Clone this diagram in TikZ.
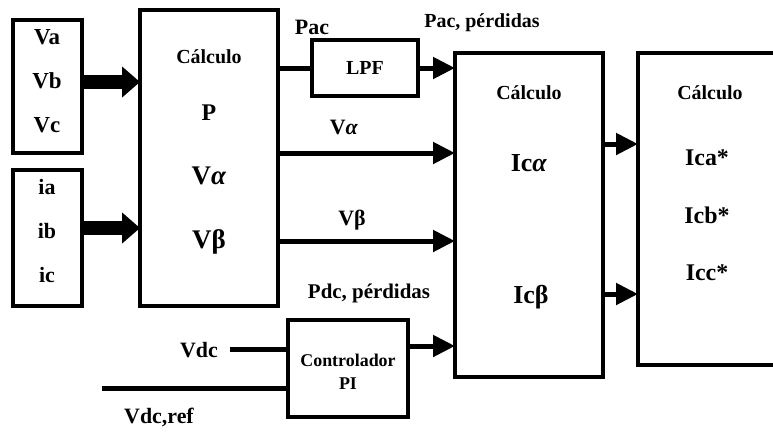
\documentclass[tikz,border=0pt]{standalone}
\usepackage{fontspec}
\setmainfont{Liberation Serif}
\usetikzlibrary{arrows.meta}
\newcommand{\fsz}[1]{\fontsize{#1}{#1}\selectfont}
\begin{document}
\begin{tikzpicture}[x=1bp,y=-1bp,
  box/.style={draw, line width=3.5bp, inner sep=0pt, outer sep=0pt},
  txt/.style={font=\bfseries\fsz{#1}, inner sep=0pt},
  txt/.default=20,
  sig/.style={line width=5bp},
  arr/.style={line width=5bp, -{Triangle[length=22bp,width=21bp]}},
  fat/.style={line width=14bp, -{Triangle[length=18bp,width=30bp]}}]
\useasboundingbox (0,0) rectangle (773,431);

% input blocks
\node[box, minimum width=69bp, minimum height=133bp] (vin) at (47.5,86.5) {};
\node[txt=23] (va) at (47,37) {Va};
\node[txt=23] (vb) at (47,81) {Vb};
\node[txt=23] (vc) at (47,125) {Vc};

\node[box, minimum width=69bp, minimum height=136bp] (iin) at (47.5,238) {};
\node[txt=22] (ia) at (47,187) {ia};
\node[txt=22] (ib) at (47,231) {ib};
\node[txt=22] (ic) at (47,275) {ic};

% first calculation block
\node[box, minimum width=138bp, minimum height=296bp] (calcA) at (209,158) {};
\node[txt] (ca1) at (209,57) {Cálculo};
\node[txt=24] (cap) at (209,113) {P};
\node[txt=27] (caa) at (209,176) {V\textit{α}};
\node[txt=27] (cab) at (209,242) {Vβ};

% low-pass filter
\node[box, minimum width=106bp, minimum height=56bp] (lpf) at (365,68) {};
\node[txt] (lpft) at (365,68) {LPF};

% PI controller
\node[box, minimum width=120bp, minimum height=97bp] (pi) at (348,368.5) {};
\node[txt=18] (pi1) at (348,360) {Controlador};
\node[txt=18] (pi2) at (348,384) {PI};

% second calculation block
\node[box, minimum width=148bp, minimum height=324bp] (calcB) at (529,215) {};
\node[txt] (cb1) at (529,93) {Cálculo};
\node[txt=26] (cba) at (529,163) {Ic\textit{α}};
\node[txt=26] (cbb) at (531,297) {Icβ};

% third calculation block, open on the right
\node[inner sep=0pt, outer sep=0pt, minimum width=135bp, minimum height=312bp] (calcC) at (705.5,209) {};
\draw[line width=3.5bp] (calcC.north east) -- (calcC.north west) -- (calcC.south west) -- (calcC.south east);
\node[txt] (cc1) at (710,93) {Cálculo};
\node[txt=24] (cca) at (707,158) {Ica*};
\node[txt=24] (ccb) at (707,215) {Icb*};
\node[txt=24] (ccc) at (707,273) {Icc*};

% signal labels
\node[txt=22] (lpac) at (312,27) {Pac};
\node[txt=22] (lva) at (344,127) {V\textit{α}};
\node[txt=22] (lvb) at (352,220) {Vβ};
\node[txt] (lpacp) at (482,23) {Pac, pérdidas};
\node[txt=21] (lpdc) at (369,293) {Pdc, pérdidas};
\node[txt=22, anchor=east] (lvdc) at (218,350) {Vdc};
\node[txt=22] (lvref) at (159,417) {Vdc,ref};

% bus arrows into the first block
\draw[fat] (vin.east |- 0,82) -- (calcA.west |- 0,82);
\draw[fat] (iin.east |- 0,228) -- (calcA.west |- 0,228);

% signals between blocks
\draw[sig] (calcA.east |- lpf.west) -- (lpf.west);
\draw[arr] (lpf.east) -- (calcB.west |- lpf.east);
\draw[arr] (calcA.east |- 0,153) -- (calcB.west |- 0,153);
\draw[arr] (calcA.east |- 0,241) -- (calcB.west |- 0,241);
\coordinate (vdcend) at (230,349);
\coordinate (vrefend) at (102,388);
\draw[sig] (vdcend) -- (pi.west |- vdcend);
\draw[sig] (vrefend) -- (pi.west |- vrefend);
\draw[arr] (pi.east |- 0,346) -- (calcB.west |- 0,346);
\draw[arr] (calcB.east |- 0,144) -- (calcC.west |- 0,144);
\draw[arr] (calcB.east |- 0,294) -- (calcC.west |- 0,294);
\end{tikzpicture}
\end{document}
